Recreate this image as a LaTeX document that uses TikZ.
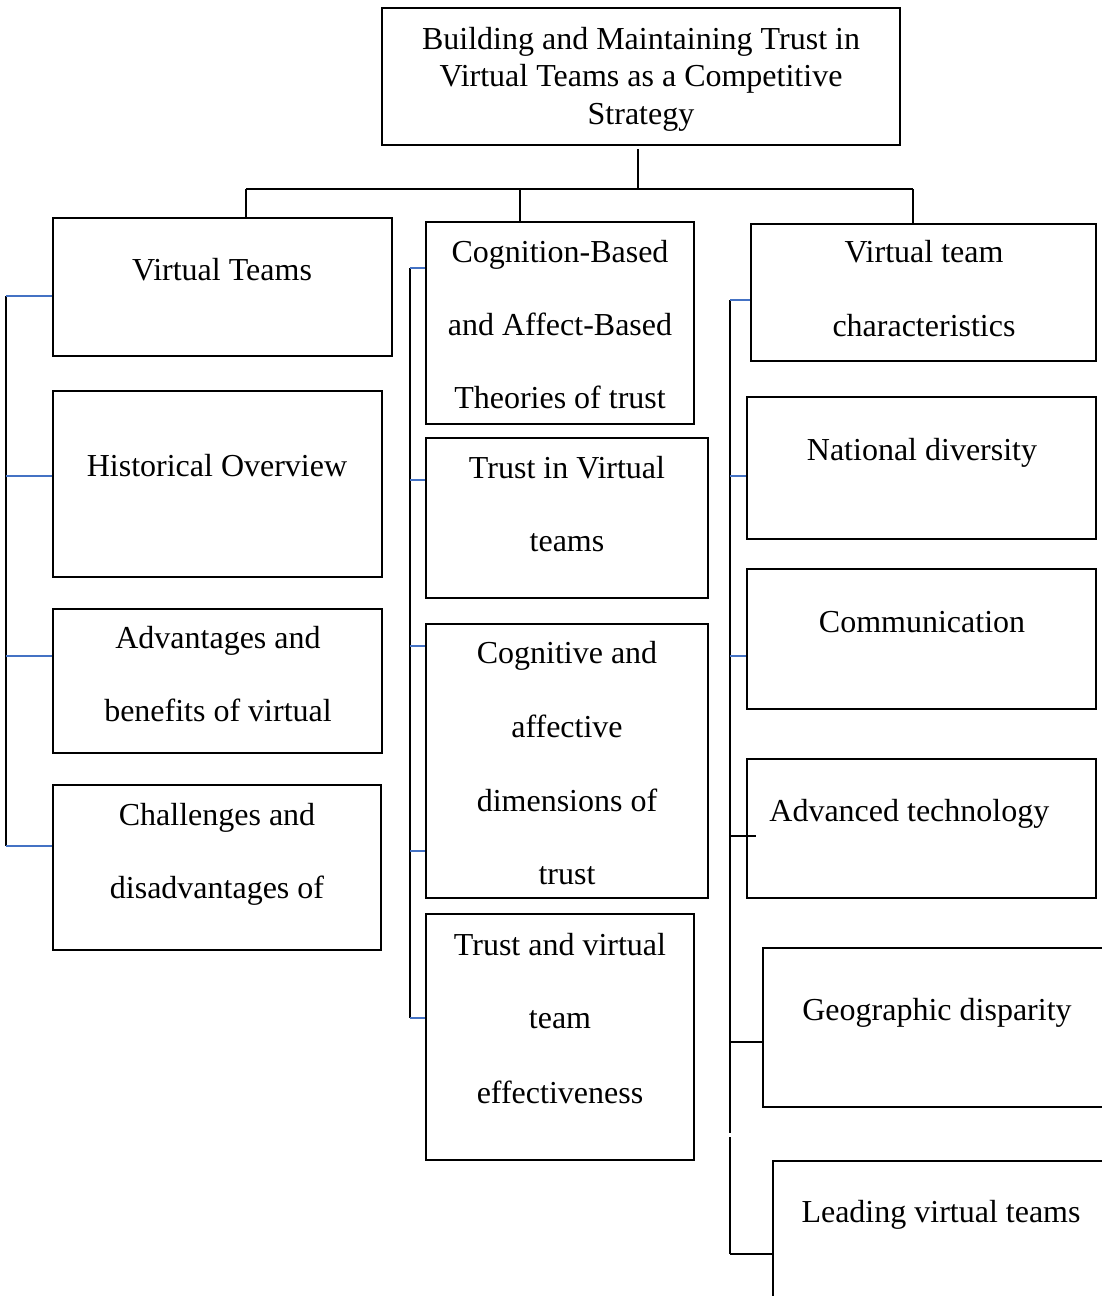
\documentclass[tikz,border=0pt]{standalone}
\usepackage{fontspec}
\setmainfont{Liberation Serif}
\usetikzlibrary{fit}
\definecolor{tickblue}{RGB}{68,114,196}
\begin{document}
\begin{tikzpicture}[x=0.5pt,y=-0.5pt,
  box/.style={draw=black,line width=1pt,inner sep=0pt},
  lbl/.style={anchor=base,inner sep=0pt,font=\fontsize{16}{19}\selectfont},
  bus/.style={draw=black,line width=1pt},
  btick/.style={draw=tickblue,line width=0.8pt},
  ktick/.style={draw=black,line width=0.8pt}]
\useasboundingbox (0,0) rectangle (1102,1296);
\clip (0,0) rectangle (1102,1296);
% boxes
\node[box,fit={(382,8) (900,145)}] (top) {};
\node[box,fit={(53,218) (392,356)}] (vt) {};
\node[box,fit={(53,391) (382,577)}] (ho) {};
\node[box,fit={(53,609) (382,753)}] (adv) {};
\node[box,fit={(53,785) (381,950)}] (chal) {};
\node[box,fit={(426,222) (694,424)}] (cb) {};
\node[box,fit={(426,438) (708,598)}] (tv) {};
\node[box,fit={(426,624) (708,898)}] (ca) {};
\node[box,fit={(426,914) (694,1160)}] (tve) {};
\node[box,fit={(751,224) (1096,361)}] (vtc) {};
\node[box,fit={(747,397) (1096,539)}] (nd) {};
\node[box,fit={(747,569) (1096,709)}] (comm) {};
\node[box,fit={(747,759) (1096,898)}] (at) {};
\node[box,fit={(763,948) (1112,1107)}] (gd) {};
\node[box,fit={(773,1161) (1112,1312)}] (lvt) {};
% texts
\node[lbl] (top1) at (641,49) {Building and Maintaining Trust in};
\node[lbl] (top2) at (641,86) {Virtual Teams as a Competitive};
\node[lbl] (top3) at (641,124) {Strategy};
\node[lbl] (vt1) at (222,280) {Virtual Teams};
\node[lbl] (ho1) at (217,476) {Historical Overview};
\node[lbl] (adv1) at (218,648) {Advantages and};
\node[lbl] (adv2) at (218,721) {benefits of virtual};
\node[lbl] (chal1) at (217,825) {Challenges and};
\node[lbl] (chal2) at (217,898) {disadvantages of};
\node[lbl] (cb1) at (560,262) {Cognition-Based};
\node[lbl] (cb2) at (560,335) {and Affect-Based};
\node[lbl] (cb3) at (560,408) {Theories of trust};
\node[lbl] (tv1) at (567,478) {Trust in Virtual};
\node[lbl] (tv2) at (567,551) {teams};
\node[lbl] (ca1) at (567,663) {Cognitive and};
\node[lbl] (ca2) at (567,737) {affective};
\node[lbl] (ca3) at (567,811) {dimensions of};
\node[lbl] (ca4) at (567,884) {trust};
\node[lbl] (tve1) at (560,955) {Trust and virtual};
\node[lbl] (tve2) at (560,1028) {team};
\node[lbl] (tve3) at (560,1103) {effectiveness};
\node[lbl] (vtc1) at (924,262) {Virtual team};
\node[lbl] (vtc2) at (924,336) {characteristics};
\node[lbl] (nd1) at (922,460) {National diversity};
\node[lbl] (comm1) at (922,632) {Communication};
\node[lbl,anchor=base west] (at1) at (769,821) {Advanced technology};
\node[lbl] (gd1) at (937,1020) {Geographic disparity};
\node[lbl] (lvt1) at (941,1222) {Leading virtual teams};
% top connector
\coordinate (hub) at (638,189);
\coordinate (j1) at (246,189);
\coordinate (j2) at (520,189);
\coordinate (j3) at (913,189);
\draw[bus] (hub |- top.south) ++(0,3) -- (hub);
\draw[bus] (j1) -- (j3);
\draw[bus] (j1) -- (j1 |- vt.north);
\draw[bus] (j2) -- (j2 |- cb.north);
\draw[bus] (j3) -- (j3 |- vtc.north);
% left bus
\coordinate (la) at (6,296);
\coordinate (lb) at (6,476);
\coordinate (lc) at (6,656);
\coordinate (ld) at (6,846);
\draw[bus] (la) -- (ld);
\draw[btick] (la) -- (la -| vt.west);
\draw[btick] (lb) -- (lb -| ho.west);
\draw[btick] (lc) -- (lc -| adv.west);
\draw[btick] (ld) -- (ld -| chal.west);
% middle bus
\coordinate (ma) at (410,268);
\coordinate (mb) at (410,480);
\coordinate (mc) at (410,646);
\coordinate (md) at (410,851);
\coordinate (me) at (410,1018);
\draw[bus] (ma) -- (me);
\draw[btick] (ma) -- (ma -| cb.west);
\draw[btick] (mb) -- (mb -| tv.west);
\draw[btick] (mc) -- (mc -| ca.west);
\draw[btick] (md) -- (md -| ca.west);
\draw[btick] (me) -- (me -| tve.west);
% right bus
\coordinate (ra) at (730,300);
\coordinate (rb) at (730,476);
\coordinate (rc) at (730,656);
\coordinate (rd) at (730,836);
\coordinate (re) at (730,1042);
\coordinate (rf) at (730,1254);
\coordinate (rg1) at (730,1133);
\coordinate (rg2) at (730,1137);
\draw[bus] (ra) -- (rg1);
\draw[bus] (rg2) -- (rf);
\draw[btick] (ra) -- (ra -| vtc.west);
\draw[btick] (rb) -- (rb -| nd.west);
\draw[btick] (rc) -- (rc -| comm.west);
\draw[ktick] (rd) -- ([xshift=5pt]rd -| at.west);
\draw[ktick] (re) -- (re -| gd.west);
\draw[ktick] (rf) -- (rf -| lvt.west);
\end{tikzpicture}
\end{document}
